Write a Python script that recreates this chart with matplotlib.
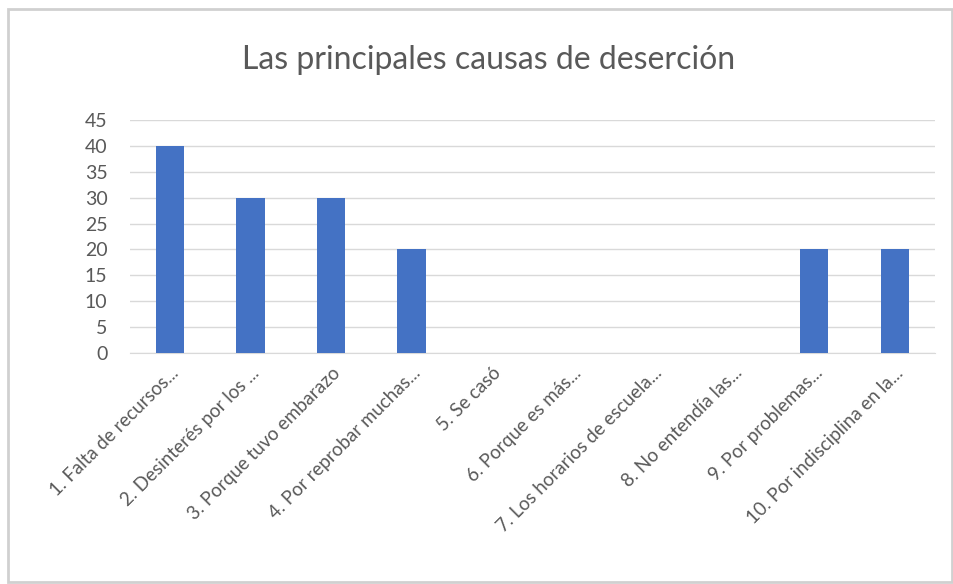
import numpy as np
import matplotlib.pyplot as plt
from matplotlib.patches import Rectangle

plt.rcParams['font.family'] = ['Lato', 'DejaVu Sans']

titulo = "Las principales causas de deserción"
causas = ["1. Falta de recursos...", "2. Desinterés por los ...", "3. Porque tuvo embarazo",
          "4. Por reprobar muchas...", "5. Se casó", "6. Porque es más...",
          "7. Los horarios de escuela...", "8. No entendía las...", "9. Por problemas...",
          "10. Por indisciplina en la..."]
valores = [40, 30, 30, 20, 0, 0, 0, 0, 20, 20]
yticks = np.arange(0, 50, 5)

fig = plt.figure(figsize=(9.54, 5.84), dpi=100)
fig.patches.append(Rectangle((0.008, 0.004), 0.99, 0.981, transform=fig.transFigure,
                             fill=False, edgecolor='#d0d0d0', lw=2))
ax = fig.add_axes([0.136, 0.3955, 0.844, 0.399])

x = np.arange(len(causas))
ax.bar(x, valores, width=0.35, color='#4472C4', zorder=3)
ax.set_xlim(-0.5, len(causas) - 0.5)
ax.set_ylim(0, 45)
ax.set_yticks(yticks)
ax.tick_params(axis='y', length=0, labelsize=14, labelcolor='#595959', pad=16)
ax.set_xticks(x)
ax.set_xticklabels(causas, rotation=45, ha='right', rotation_mode='anchor',
                   fontsize=13.5, color='#595959')
ax.tick_params(axis='x', length=0, pad=8)
ax.grid(axis='y', color='#d9d9d9', lw=1, zorder=0)
for s in ['top', 'right', 'left']:
    ax.spines[s].set_visible(False)
ax.spines['bottom'].set_color('#d9d9d9')

fig.text(0.512, 0.897, titulo, ha='center', va='center', fontsize=23, color='#595959')

fig.savefig('out.png', dpi=100)
